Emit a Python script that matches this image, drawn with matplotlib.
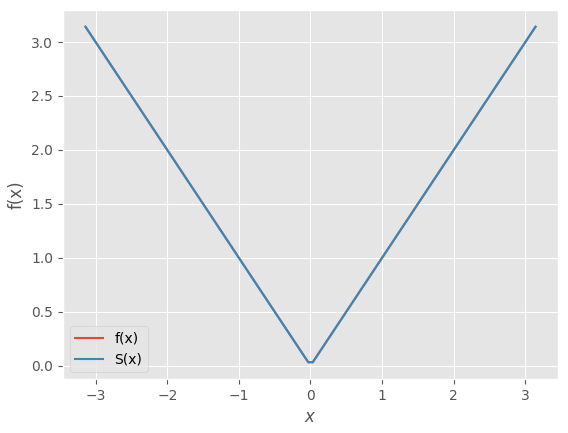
import matplotlib
matplotlib.use("Agg")
from matplotlib import pyplot as plt

plt.style.use('ggplot')

# sample points
x = [-3.1416, -0.0317, 0.0317, 3.1416]
f = [3.1416, 0.0317, 0.0317, 3.1416]
S = [3.1416, 0.0317, 0.0317, 3.1416]

fig = plt.figure(figsize=(5.68, 4.33), dpi=100)
ax = fig.add_subplot(111)
fig.subplots_adjust(left=0.1109, right=0.9824, top=0.9769, bottom=0.1247)
ax.plot(x, f, label='f(x)')
ax.plot(x, S, label='S(x)')
ax.set_xlabel('$x$')
ax.set_ylabel('f(x)')
ax.legend(loc='lower left')
fig.savefig('out.png', dpi=100)
